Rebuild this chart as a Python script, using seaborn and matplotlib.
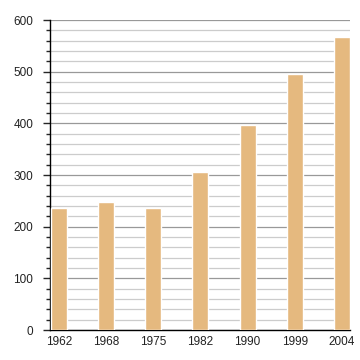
import matplotlib
matplotlib.use("Agg")
import matplotlib.pyplot as plt
import seaborn as sns
import pandas as pd
from matplotlib.ticker import MultipleLocator

years = ["1962", "1968", "1975", "1982", "1990", "1999", "2004"]
values = [237, 248, 237, 306, 397, 496, 567]

df = pd.DataFrame({"year": years, "value": values})

sns.set_style("white")
plt.rcParams["font.family"] = ["Liberation Sans", "DejaVu Sans"]

fig = plt.figure(figsize=(3.6, 3.6), dpi=100)
ax = fig.add_axes([0.139, 0.083, 0.833, 0.861])

sns.barplot(data=df, x="year", y="value", color="#e5b97f", saturation=1,
            width=0.34, ax=ax, zorder=3)

ax.set_ylim(0, 600)
ax.set_xlim(-0.19, 6.17)
ax.yaxis.set_major_locator(MultipleLocator(100))
ax.yaxis.set_minor_locator(MultipleLocator(20))
ax.grid(axis="y", which="major", color="#999999", linewidth=0.9, zorder=0)
ax.grid(axis="y", which="minor", color="#cccccc", linewidth=0.9, zorder=0)
ax.set_axisbelow(True)

for s in ["top", "right"]:
    ax.spines[s].set_visible(False)
ax.spines["left"].set_color("black")
ax.spines["bottom"].set_color("black")
ax.spines["left"].set_linewidth(1)
ax.spines["bottom"].set_linewidth(1)

ax.tick_params(axis="y", which="major", left=True, length=5, width=1,
               labelsize=8.5, labelcolor="#222222", pad=7)
ax.tick_params(axis="y", which="minor", left=True, length=3, width=1)
ax.tick_params(axis="x", bottom=False, labelsize=8.5, labelcolor="#222222",
               pad=1)
ax.set_xlabel("")
ax.set_ylabel("")

fig.savefig("out.png", dpi=100)
